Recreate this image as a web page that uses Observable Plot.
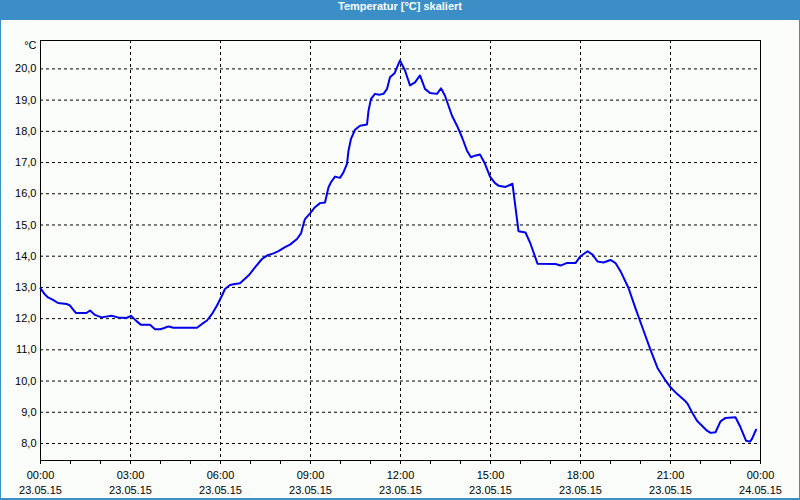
<!DOCTYPE html>
<html>
<head>
<meta charset="utf-8">
<script src="https://cdn.jsdelivr.net/npm/d3@7"></script>
<script src="https://cdn.jsdelivr.net/npm/@observablehq/plot@0.6"></script>
<style>
  html, body { margin: 0; padding: 0; background: #ffffff; }
  #frame { position: relative; width: 800px; height: 500px; background: #3c8fc6; overflow: hidden; }
  #title { height: 20px; line-height: 20px; text-align: center; color: #ffffff;
           font: bold 11px "Liberation Sans", "DejaVu Sans", Arial, sans-serif; }
  #chart { position: absolute; left: 1px; top: 20px; width: 798px; height: 478px; background: #fbfdfb; }
</style>
</head>
<body>
<div id="frame">
  <div id="title">Temperatur [°C] skaliert</div>
  <div id="chart"></div>
</div>
<script>
// Minutes after 23.05.15 00:00 and measured temperature (°C)
const minutes = [0, 9, 15, 25, 35, 52, 59, 71, 92, 99, 109, 122, 142, 155, 172, 181, 192, 201, 219, 229,
  239, 246, 256, 266, 313, 323, 333, 343, 353, 363, 369, 379, 386, 399, 416, 429, 443, 453, 466, 476,
  489, 499, 513, 521, 526, 529, 539, 549, 559, 569, 576, 581, 589, 599, 606, 613, 616, 621, 629, 639,
  653, 656, 661, 669, 677, 686, 693, 699, 708, 719, 729, 739, 749, 759, 769, 779, 793, 801, 809, 816,
  823, 833, 843, 853, 861, 869, 879, 889, 899, 909, 916, 930, 944, 956, 970, 980, 994, 1030, 1040, 1052,
  1070, 1080, 1094, 1104, 1114, 1126, 1140, 1150, 1160, 1176, 1190, 1206, 1220, 1234, 1250, 1260, 1273, 1290, 1295, 1303,
  1313, 1323, 1333, 1340, 1350, 1360, 1370, 1390, 1400, 1411, 1419, 1423, 1431];
const temps = [12.97, 12.77, 12.68, 12.60, 12.50, 12.47, 12.42, 12.18, 12.18, 12.26, 12.12, 12.04, 12.09, 12.04, 12.02, 12.09, 11.92, 11.80, 11.80, 11.66,
  11.66, 11.69, 11.75, 11.71, 11.71, 11.83, 11.94, 12.15, 12.42, 12.74, 12.95, 13.08, 13.10, 13.13, 13.38, 13.64, 13.91, 14.02, 14.09, 14.16,
  14.29, 14.37, 14.55, 14.73, 15.03, 15.19, 15.37, 15.57, 15.70, 15.72, 16.21, 16.37, 16.55, 16.51, 16.69, 16.96, 17.38, 17.76, 18.05, 18.18,
  18.22, 18.66, 19.04, 19.20, 19.17, 19.20, 19.36, 19.73, 19.86, 20.27, 19.95, 19.47, 19.57, 19.79, 19.36, 19.23, 19.20, 19.38, 19.14, 18.82,
  18.50, 18.18, 17.81, 17.38, 17.17, 17.22, 17.26, 16.96, 16.55, 16.34, 16.26, 16.22, 16.32, 14.80, 14.76, 14.40, 13.76, 13.75, 13.70, 13.78,
  13.78, 14.00, 14.16, 14.05, 13.83, 13.80, 13.88, 13.78, 13.52, 12.98, 12.33, 11.62, 11.00, 10.42, 10.02, 9.80, 9.59, 9.35, 9.25, 9.00,
  8.73, 8.57, 8.41, 8.34, 8.36, 8.71, 8.82, 8.84, 8.52, 8.09, 8.06, 8.15, 8.44];

// Tick values
const yTicks = [8, 9, 10, 11, 12, 13, 14, 15, 16, 17, 18, 19, 20];
const labelHours = [0, 3, 6, 9, 12, 15, 18, 21, 24];
const gridHours = [3, 6, 9, 12, 15, 18, 21];
const minorHours = d3.range(0, 25);
const unitLabel = "°C";

const dayStart = Date.UTC(2015, 4, 23);
const toDate = (m) => new Date(dayStart + m * 60000);
const data = minutes.map((m, i) => ({ t: toDate(m), v: temps[i] }));
const hourDate = (h) => toDate(h * 60);

const fmtY = (d) => d.toFixed(1).replace(".", ",");
const fmtTime = d3.utcFormat("%H:%M");
const fmtDate = d3.utcFormat("%d.%m.%y");
const font = "'Liberation Sans', 'DejaVu Sans', Arial, sans-serif";

const chart = Plot.plot({
  width: 798,
  height: 478,
  marginLeft: 39,
  marginRight: 39,
  marginTop: 20,
  marginBottom: 38,
  style: { background: "transparent", fontFamily: font, fontSize: "11px", color: "black", overflow: "visible" },
  x: { type: "utc", domain: [hourDate(0), hourDate(24)] },
  y: { domain: [7.455, 20.91] },
  marks: [
    Plot.gridX(gridHours.map(hourDate), { stroke: "black", strokeOpacity: 1, strokeDasharray: "3,3" }),
    Plot.gridY(yTicks, { stroke: "black", strokeOpacity: 1, strokeDasharray: "3,3" }),
    Plot.axisY(yTicks, { tickSize: 0, tickPadding: 4, tickFormat: fmtY, label: null, fontSize: 11, fill: "black" }),
    Plot.axisX(minorHours.map(hourDate), { tickSize: 4, tickFormat: () => "", label: null, stroke: "black" }),
    Plot.axisX(labelHours.map(hourDate), { tickSize: 0, tickPadding: 11, tickFormat: fmtTime, label: null, fontSize: 11, fill: "black" }),
    Plot.axisX(labelHours.map(hourDate), { tickSize: 0, tickPadding: 26, tickFormat: fmtDate, label: null, fontSize: 11, fill: "black" }),
    Plot.frame({ stroke: "black" }),
    Plot.line(data, { x: "t", y: "v", stroke: "#0000f0", strokeWidth: 2, curve: "linear" }),
    Plot.text([unitLabel], { frameAnchor: "top-left", dx: -4, dy: 5, textAnchor: "end", lineAnchor: "middle", fontSize: 11, fill: "black" })
  ]
});
document.getElementById("chart").appendChild(chart);
</script>
</body>
</html>
